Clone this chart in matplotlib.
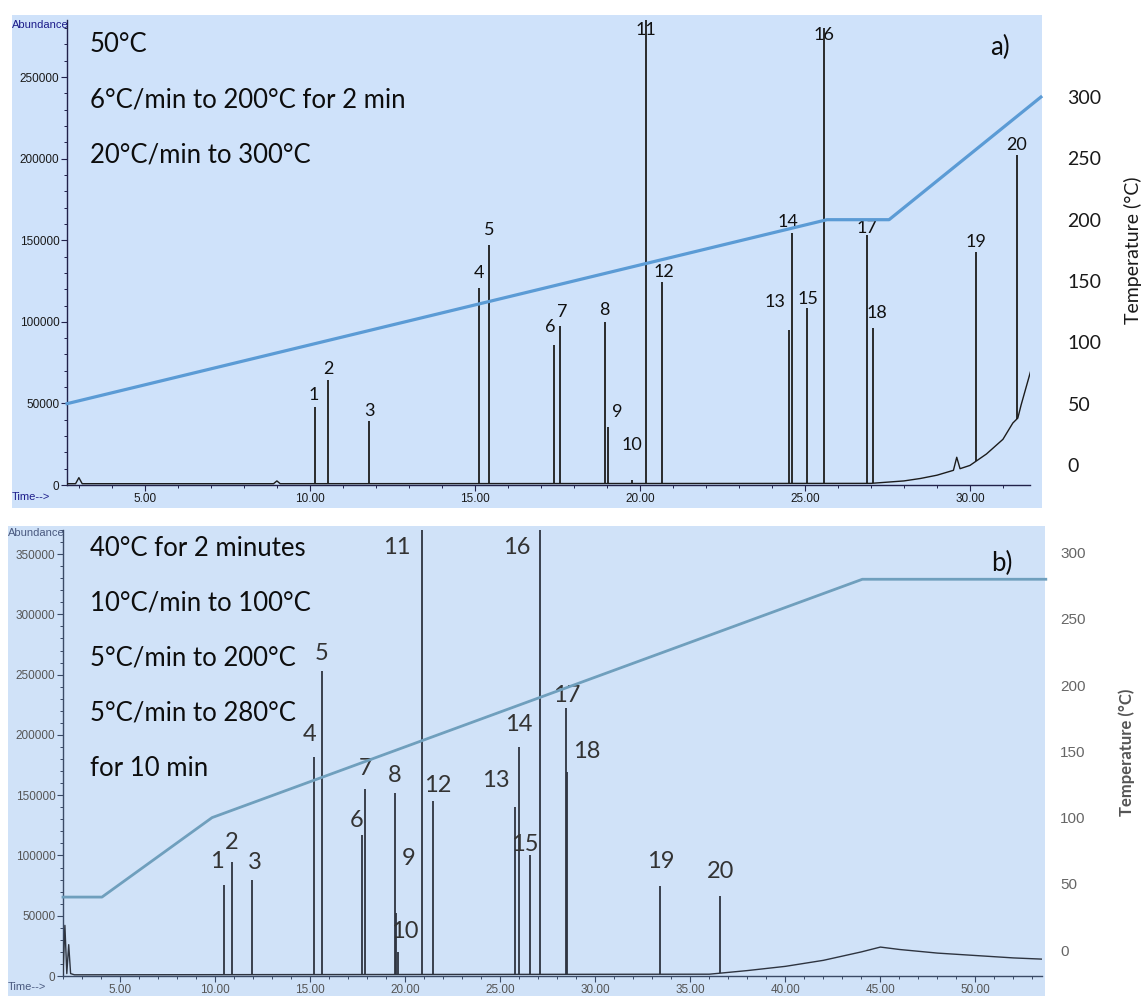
import numpy as np
import matplotlib
matplotlib.use('Agg')
import matplotlib.pyplot as plt
from matplotlib import font_manager
from matplotlib.patches import Rectangle
from matplotlib.ticker import MultipleLocator, FuncFormatter

W, H = 1146, 996

# ---- panel a) data ----
a_labels = [str(i) for i in range(1, 21)]
a_time = [10.15, 10.56, 11.79, 15.12, 15.43, 17.39, 17.58, 18.93, 19.04, 19.75,
          20.18, 20.68, 24.52, 24.62, 25.07, 25.58, 26.87, 27.07, 30.18, 31.42]
a_height = [47800, 64300, 39400, 120700, 147000, 85800, 97400, 100100, 35700, 3000,
            300000, 124600, 95000, 154400, 108500, 280000, 153200, 96200, 143000, 202200]
a_base_time = [2.64, 2.9, 3.0, 3.1, 8.9, 9.0, 9.1, 27.0, 28.0, 28.5, 29.0, 29.5,
               29.6, 29.7, 30.0, 30.5, 31.0, 31.3, 31.45, 31.55, 31.85]
a_base_val = [800, 800, 4500, 800, 800, 2500, 800, 1000, 2500, 4000, 6000, 9000,
              17000, 10000, 12000, 19000, 28000, 38000, 41000, 49000, 70500]
a_temp_time = [2.64, 25.67, 27.55, 32.15]
a_temp_val = [50, 200, 200, 300]
a_program = ['50°C', '6°C/min to 200°C for 2 min', '20°C/min to 300°C']

# ---- panel b) data ----
b_labels = [str(i) for i in range(1, 21)]
b_time = [10.47, 10.88, 11.96, 15.23, 15.62, 17.72, 17.89, 19.44, 19.53, 19.63,
          20.88, 21.46, 25.79, 26.00, 26.58, 27.10, 28.46, 28.51, 33.42, 36.58]
b_height = [75500, 94800, 79600, 181800, 253200, 116900, 155000, 151700, 52000, 20000,
            400000, 145000, 140000, 190000, 100000, 400000, 222200, 169400, 75000, 66000]
b_base_time = [2.0, 2.1, 2.2, 2.3, 2.4, 2.5, 2.6, 36.0, 38.0, 40.0, 42.0, 44.0,
               45.0, 46.0, 48.0, 50.0, 52.0, 53.5]
b_base_val = [1000, 42000, 2000, 26000, 2000, 1500, 1000, 1500, 4500, 8000, 13000,
              20000, 24000, 22000, 19000, 17000, 15000, 14000]
b_temp_time = [2.0, 4.05, 9.84, 44.05, 53.7]
b_temp_val = [40, 40, 100, 280, 280]
b_program = ['40°C for 2 minutes', '10°C/min to 100°C', '5°C/min to 200°C',
             '5°C/min to 280°C', 'for 10 min']

# label offsets (pixels) from each peak top
a_offsets = [(-1, 12), (0, 11), (0, 10), (0, 15), (0, 15), (-4, 18), (2, 14), (0, 12),
             (9, 15), (0, 35), (0, -10), (2, 10), (-14, 28), (-4, 11), (1, 9), (0, -7),
             (0, 7), (4, 15), (0, 10), (0, 10)]
b_offsets = [(-7, 23), (0, 19), (3, 18), (-5, 22), (0, 17), (-5, 15), (0, 21), (0, 18),
             (12, 55), (7, 20), (-25, -18), (5, 16), (-19, 27), (-1, 22), (-5, 11),
             (-23, -18), (1, 13), (20, 20), (0, 24), (0, 25)]


def pick_font(names):
    avail = {f.name for f in font_manager.fontManager.ttflist}
    for n in names:
        if n in avail:
            return n
    return 'DejaVu Sans'


MAIN = pick_font(['Lato', 'Open Sans', 'DejaVu Sans'])
NARROW = pick_font(['Liberation Sans Narrow', 'DejaVu Sans Condensed', 'Liberation Sans'])
plt.rcParams['font.family'] = [MAIN, 'DejaVu Sans']

fig = plt.figure(figsize=(W / 100, H / 100), dpi=100)
fig.patch.set_facecolor('white')


def px_rect(x0, y0, x1, y1):
    return [x0 / W, 1 - y1 / H, (x1 - x0) / W, (y1 - y0) / H]


def background(x0, y0, x1, y1, color):
    fig.add_artist(Rectangle((x0 / W, 1 - y1 / H), (x1 - x0) / W, (y1 - y0) / H,
                             transform=fig.transFigure, facecolor=color,
                             edgecolor='none', zorder=0))


def fpx(x, y):
    return x / W, 1 - y / H


def chrom_panel(box, xlim, ylim, tlim, base_t, base_v, pk_t, pk_h, labels, offsets,
                temp_t, temp_v, temp_color, temp_lw, spine_color, tick_color,
                label_size, label_color, trace_color, narrow_size, right_pad,
                right_size, right_color, right_font):
    ax = fig.add_axes(px_rect(*box))
    ax.patch.set_alpha(0)
    ax.set_xlim(*xlim)
    ax.set_ylim(*ylim)
    for s in ['top', 'right']:
        ax.spines[s].set_visible(False)
    for s in ['left', 'bottom']:
        ax.spines[s].set_color(spine_color)
        ax.spines[s].set_linewidth(1.0)

    ax.yaxis.set_major_locator(MultipleLocator(50000))
    ax.yaxis.set_minor_locator(MultipleLocator(10000))
    ax.xaxis.set_major_locator(MultipleLocator(5))
    ax.xaxis.set_minor_locator(MultipleLocator(1))
    ax.yaxis.set_major_formatter(FuncFormatter(lambda v, p: f'{int(v)}'))
    ax.xaxis.set_major_formatter(FuncFormatter(lambda v, p: f'{v:.2f}'))
    ax.tick_params(which='major', direction='out', length=4, width=0.8,
                   color=spine_color, labelcolor=tick_color, labelsize=narrow_size, pad=1.5)
    ax.tick_params(which='minor', direction='out', length=2, width=0.7, color=spine_color)
    for lab in ax.get_xticklabels() + ax.get_yticklabels():
        lab.set_fontfamily(NARROW)

    # baseline and peaks
    ax.plot(base_t, base_v, color=trace_color, lw=1.0, zorder=3)
    base_at_pk = np.interp(pk_t, base_t, base_v)
    ax.vlines(pk_t, base_at_pk, pk_h, colors=trace_color, lw=1.3, zorder=3)

    top = ylim[1]
    for t, h, lab, (dx, dy) in zip(pk_t, pk_h, labels, offsets):
        ax.annotate(lab, xy=(t, min(h, top)), xytext=(dx, dy), textcoords='offset pixels',
                    ha='center', va='center', fontsize=label_size, color=label_color,
                    annotation_clip=False, zorder=5)

    # temperature programme on the twin axis
    ax2 = ax.twinx()
    ax2.patch.set_alpha(0)
    ax2.set_ylim(*tlim)
    for s in ax2.spines.values():
        s.set_visible(False)
    ax2.set_yticks([0, 50, 100, 150, 200, 250, 300])
    ax2.tick_params(axis='y', length=0, pad=right_pad, labelsize=right_size,
                    labelcolor=right_color)
    for lab in ax2.get_yticklabels():
        lab.set_fontfamily(right_font)
    ax2.plot(temp_t, temp_v, color=temp_color, lw=temp_lw, clip_on=False, zorder=2)
    return ax, ax2


# ---------------- panel a ----------------
background(12, 15, 1042, 508, '#cfe2fa')
chrom_panel(box=(67, 20, 1030, 485), xlim=(2.64, 31.82), ylim=(0, 285000),
            tlim=(-16.3, 362.8), base_t=a_base_time, base_v=a_base_val,
            pk_t=a_time, pk_h=a_height, labels=a_labels, offsets=a_offsets,
            temp_t=a_temp_time, temp_v=a_temp_val, temp_color='#5b9bd5', temp_lw=2.3,
            spine_color='#22224a', tick_color='#1a1a1a', label_size=13,
            label_color='#111111', trace_color='#1c1c1c', narrow_size=8.5,
            right_pad=27, right_size=14, right_color='#1a1a1a', right_font=MAIN)

fig.text(*fpx(12, 25), 'Abundance', fontsize=8, color='#1c1c8a', fontfamily=NARROW,
         ha='left', va='center')
fig.text(*fpx(12, 497), 'Time-->', fontsize=8, color='#1c1c8a', fontfamily=NARROW,
         ha='left', va='center')
for i, line in enumerate(a_program):
    fig.text(*fpx(90, 45 + 55 * i), line, fontsize=18.5, color='#0d0d0d',
             ha='left', va='center')
fig.text(*fpx(1000, 47), 'a)', fontsize=18.5, color='#0d0d0d', ha='center', va='center')
fig.text(*fpx(1133, 250), 'Temperature (°C)', fontsize=14, color='#1a1a1a',
         rotation=90, ha='center', va='center')

# ---------------- panel b ----------------
background(8, 526, 1045, 996, '#d0e2f8')
chrom_panel(box=(63, 530, 1042, 976), xlim=(2.0, 53.5), ylim=(0, 370000),
            tlim=(-19.6, 317.2), base_t=b_base_time, base_v=b_base_val,
            pk_t=b_time, pk_h=b_height, labels=b_labels, offsets=b_offsets,
            temp_t=b_temp_time, temp_v=b_temp_val, temp_color='#6f9fbd', temp_lw=2.0,
            spine_color='#3a4a66', tick_color='#555555', label_size=17,
            label_color='#333333', trace_color='#2e3440', narrow_size=8.5,
            right_pad=13, right_size=11, right_color='#666666', right_font=NARROW)

fig.text(*fpx(8, 533), 'Abundance', fontsize=8, color='#4a5a80', fontfamily=NARROW,
         ha='left', va='center')
fig.text(*fpx(8, 987), 'Time-->', fontsize=8, color='#4a5a80', fontfamily=NARROW,
         ha='left', va='center')
for i, line in enumerate(b_program):
    fig.text(*fpx(90, 548 + 55 * i), line, fontsize=18.5, color='#0d0d0d',
             ha='left', va='center')
fig.text(*fpx(1002, 563), 'b)', fontsize=18.5, color='#0d0d0d', ha='center', va='center')
fig.text(*fpx(1127, 752), 'Temperature (°C)', fontsize=12, color='#555555',
         fontweight='bold', rotation=90, ha='center', va='center')

fig.savefig('out.png', dpi=100, facecolor='white')
